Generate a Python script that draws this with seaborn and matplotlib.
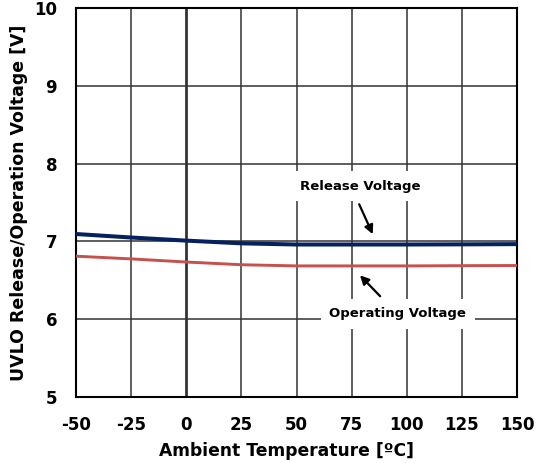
import matplotlib
matplotlib.use("Agg")
import matplotlib.pyplot as plt
import seaborn as sns
import pandas as pd

temps = [-50, -25, 0, 25, 50, 75, 100, 125, 150]
release_v = [7.095, 7.05, 7.01, 6.975, 6.96, 6.96, 6.96, 6.962, 6.965]
operating_v = [6.81, 6.775, 6.735, 6.70, 6.685, 6.685, 6.685, 6.688, 6.69]
x_ticks = [-50, -25, 0, 25, 50, 75, 100, 125, 150]
y_ticks = [5, 6, 7, 8, 9, 10]

sns.set_style("white")
plt.rcParams['font.family'] = ['DejaVu Sans']
plt.rcParams['font.weight'] = 'bold'
plt.rcParams['axes.unicode_minus'] = False
plt.rcParams['text.color'] = 'black'
plt.rcParams['axes.labelcolor'] = 'black'
plt.rcParams['xtick.color'] = 'black'
plt.rcParams['ytick.color'] = 'black'

df = pd.DataFrame({
    "T": temps * 2,
    "V": release_v + operating_v,
    "S": ["Release Voltage"] * len(temps) + ["Operating Voltage"] * len(temps),
})

fig = plt.figure(figsize=(5.36, 4.63), dpi=100)
ax = fig.add_axes([76/536, 1-397/463, (517-76)/536, (397-8)/463])

for x in x_ticks:
    ax.axvline(x, color="#333333", lw=2.0 if x == 0 else 1.1, zorder=1)
for y in y_ticks:
    ax.axhline(y, color="#333333", lw=1.1, zorder=1)

sns.lineplot(data=df[df.S == "Release Voltage"], x="T", y="V", color="#06215F",
             lw=2.9, ax=ax, zorder=3)
sns.lineplot(data=df[df.S == "Operating Voltage"], x="T", y="V", color="#C5504D",
             lw=2.1, ax=ax, zorder=3)

ax.set_xlim(-50, 150)
ax.set_ylim(5, 10)
ax.set_xticks(x_ticks)
ax.set_yticks(y_ticks)
ax.set_xticklabels([str(v) for v in x_ticks], fontsize=12, fontweight='bold', color='black')
ax.set_yticklabels([str(v) for v in y_ticks], fontsize=12, fontweight='bold', color='black')
ax.tick_params(axis='both', length=0, pad=13.5)
ax.set_xlabel("Ambient Temperature [ºC]", fontsize=12.3, fontweight='bold', labelpad=6, color='black')
ax.xaxis.label.set_x((286.5 - 76) / 441)
ax.set_ylabel("UVLO Release/Operation Voltage [V]", fontsize=12.5, fontweight='bold', labelpad=4.5, color='black')
for s in ax.spines.values():
    s.set_visible(True)
    s.set_color("black")
    s.set_linewidth(1.5)

ax.text(79, 7.71, "Release Voltage", ha="center", va="center", fontsize=9.5,
        fontweight="bold", zorder=5, color='black',
        bbox=dict(facecolor="white", edgecolor="none", pad=6))
ax.annotate("", xy=(85.1, 7.06), xytext=(77.9, 7.51),
            arrowprops=dict(arrowstyle="-|>", color="black", lw=1.6, mutation_scale=13),
            zorder=5)
ax.text(96, 6.067, "Operating Voltage", ha="center", va="center", fontsize=9.5,
        fontweight="bold", zorder=5, color='black',
        bbox=dict(facecolor="white", edgecolor="none", pad=6))
ax.annotate("", xy=(77.9, 6.59), xytext=(88.8, 6.27),
            arrowprops=dict(arrowstyle="-|>", color="black", lw=1.6, mutation_scale=13),
            zorder=5)

fig.savefig("out.png", dpi=100)
